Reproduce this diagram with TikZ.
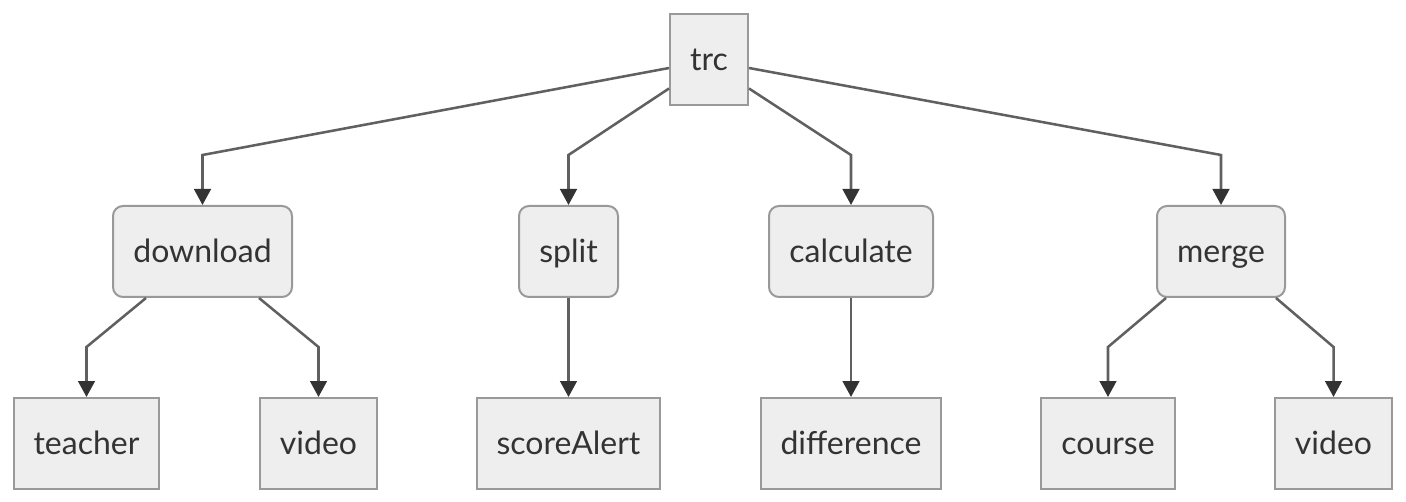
\documentclass[tikz,border=0pt]{standalone}
\usepackage{fontspec}
\setmainfont{Lato}
\usetikzlibrary{arrows.meta,calc}
\definecolor{boxfill}{HTML}{EEEEEE}
\definecolor{boxline}{HTML}{999999}
\definecolor{edgec}{HTML}{606060}
\definecolor{tipc}{HTML}{333333}
\definecolor{txt}{HTML}{333333}
\tikzset{
  box/.style={draw=boxline, fill=boxfill, line width=1.5pt, inner sep=0pt, text=txt,
    font=\fontsize{24}{28}\selectfont, minimum height=68.25pt, text height=19.5pt, text depth=3pt},
  rbox/.style={box, rounded corners=7.5pt},
  edge/.style={draw=edgec, line width=1.9pt, -{Triangle[width=12.5pt,length=12pt,color=tipc]}},
}
\begin{document}
\begin{tikzpicture}[x=0.75pt,y=-0.75pt]
\useasboundingbox (0,0) rectangle (1406,502);
% top
\node[box, minimum width=58.5pt] (trc) at (709,60) {trc};
% middle
\node[rbox, minimum width=134.25pt] (download) at (202.5,251.5) {download};
\node[rbox, minimum width=74.25pt] (split) at (568.5,251.5) {split};
\node[rbox, minimum width=123pt] (calculate) at (851,251.5) {calculate};
\node[rbox, minimum width=96pt] (merge) at (1221,251.5) {merge};
% bottom
\node[box, minimum width=108.75pt] (teacher) at (86.5,443.5) {teacher};
\node[box, minimum width=87.75pt] (video1) at (318.5,443.5) {video};
\node[box, minimum width=137.25pt] (score) at (568.5,443.5) {scoreAlert};
\node[box, minimum width=135pt] (diff) at (851,443.5) {difference};
\node[box, minimum width=100.5pt] (course) at (1108,443.5) {course};
\node[box, minimum width=87.75pt] (video2) at (1333.5,443.5) {video};
% coordinates
\coordinate (tl1) at ($(trc.west)+(0,8)$);
\coordinate (tl2) at ($(trc.south west)+(0,-18)$);
\coordinate (tr2) at ($(trc.south east)+(0,-18)$);
\coordinate (tr1) at ($(trc.east)+(0,8)$);
\coordinate (dl) at ($(download.south west)+(34,0)$);
\coordinate (dr) at ($(download.south east)+(-34,0)$);
\coordinate (ml) at ($(merge.south west)+(10,0)$);
\coordinate (mr) at ($(merge.south east)+(-10,0)$);
% edges
\draw[edge] (tl1) -- (download.north |- 0,155) -- (download.north);
\draw[edge] (tl2) -- (split.north |- 0,155) -- (split.north);
\draw[edge] (tr2) -- (calculate.north |- 0,155) -- (calculate.north);
\draw[edge] (tr1) -- (merge.north |- 0,155) -- (merge.north);
\draw[edge] (dl) -- (teacher.north |- 0,347) -- (teacher.north);
\draw[edge] (dr) -- (video1.north |- 0,347) -- (video1.north);
\draw[edge] (split) -- (score);
\draw[edge] (calculate) -- (diff);
\draw[edge] (ml) -- (course.north |- 0,347) -- (course.north);
\draw[edge] (mr) -- (video2.north |- 0,347) -- (video2.north);
\end{tikzpicture}
\end{document}
